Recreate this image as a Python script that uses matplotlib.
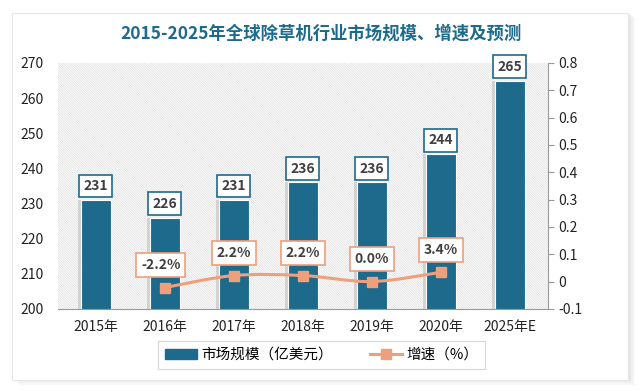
import matplotlib.pyplot as plt
import matplotlib.patches as mpatches
from matplotlib.path import Path
from matplotlib.lines import Line2D
import numpy as np

plt.rcParams['font.family'] = ['Noto Sans CJK SC', 'DejaVu Sans']
plt.rcParams['hatch.linewidth'] = 0.5

# Data.
categories = ['2015年', '2016年', '2017年', '2018年', '2019年', '2020年', '2025年E']
market_size = [231, 226, 231, 236, 236, 244, 265]
growth = [None, -0.022, 0.022, 0.022, 0.0, 0.034, None]
growth_labels = ['', '-2.2%', '2.2%', '2.2%', '0.0%', '3.4%', '']

bar_color = '#1d6a8c'
line_color = '#ee9f7c'
text_color = '#404040'

fig = plt.figure(figsize=(6.43, 3.91), dpi=100)
fig.patch.set_facecolor('white')

# Card with soft shadow.
for i, a in enumerate([0.05, 0.07, 0.09]):
    off = (3 - i) * 0.003
    fig.patches.append(mpatches.Rectangle((0.02 + off, 0.03 - off * 1.6), 0.958, 0.94,
                                          transform=fig.transFigure, facecolor='#888888',
                                          alpha=a, edgecolor='none', zorder=0))
fig.patches.append(mpatches.Rectangle((0.019, 0.028), 0.958, 0.94, transform=fig.transFigure,
                                      facecolor='white', edgecolor='#e6e6e6', lw=0.8, zorder=1))

fig.text(0.5, 0.915, '2015-2025年全球除草机行业市场规模、增速及预测', ha='center', va='center',
         fontsize=12.5, fontweight='bold', color=bar_color)

ax = fig.add_axes([0.090, 0.210, 0.762, 0.629])
ax.set_zorder(2)
ax.patch.set_facecolor('white')
ax.patch.set_hatch('\\' * 14)
ax.patch.set_edgecolor('#dcdcdc')

x = np.arange(len(categories))
width = 0.43
ax.bar(x - 0.04, market_size, width, color='#000000', alpha=0.12, zorder=1)
ax.bar(x, market_size, width, color=bar_color, edgecolor='white', lw=0.8, zorder=2)
ax.set_ylim(200, 270)
ax.set_xlim(-0.55, len(categories) - 0.45)
ax.set_yticks(range(200, 271, 10))
ax.set_xticks(x)
ax.set_xticklabels(categories)
ax.tick_params(axis='y', length=0, labelsize=10, colors='#222222', pad=10)
ax.tick_params(axis='x', length=0, labelsize=10, colors='#222222', pad=8)
for s in ['left', 'top', 'right']:
    ax.spines[s].set_visible(False)
ax.spines['bottom'].set_color('#999999')

for xi, v in zip(x, market_size):
    ax.annotate(str(v), (xi, v), xytext=(0, 10), textcoords='offset points', ha='center',
                va='center', fontsize=10, fontweight='bold', color=text_color, zorder=5,
                bbox=dict(boxstyle='square,pad=0.3', fc='white', ec=bar_color, lw=1.2))

ax2 = ax.twinx()
ax2.set_ylim(-0.1, 0.8)
ax2.set_yticks(np.arange(-0.1, 0.81, 0.1))
ax2.set_yticklabels(['-0.1', '0', '0.1', '0.2', '0.3', '0.4', '0.5', '0.6', '0.7', '0.8'])
ax2.tick_params(axis='y', length=4, labelsize=10, colors='#999999', labelcolor='#222222')
for s in ['left', 'top', 'bottom']:
    ax2.spines[s].set_visible(False)
ax2.spines['right'].set_color('#999999')

# Smoothed growth line (Catmull-Rom as cubic Bezier through the data points).
gx = [xi for xi, g in zip(x, growth) if g is not None]
gy = [g for g in growth if g is not None]
pts = np.column_stack([gx, gy]).astype(float)
verts = [tuple(pts[0])]
codes = [Path.MOVETO]
t = 0.5
for i in range(len(pts) - 1):
    p0 = pts[i - 1] if i > 0 else pts[i]
    p1, p2 = pts[i], pts[i + 1]
    p3 = pts[i + 2] if i + 2 < len(pts) else pts[i + 1]
    c1 = p1 + (p2 - p0) * t / 3
    c2 = p2 - (p3 - p1) * t / 3
    verts += [tuple(c1), tuple(c2), tuple(p2)]
    codes += [Path.CURVE4] * 3
ax2.add_patch(mpatches.PathPatch(Path(verts, codes), fc='none', ec=line_color, lw=2.2, zorder=3))
ax2.plot(gx, gy, ls='none', marker='s', ms=7, color=line_color, zorder=4)

for xi, g, lab in zip(x, growth, growth_labels):
    if g is None:
        continue
    ax2.annotate(lab, (xi, g), xytext=(-3 if g < 0 else 0, 16), textcoords='offset points',
                 ha='center', va='center', fontsize=10, fontweight='bold', color=text_color,
                 zorder=5, bbox=dict(boxstyle='square,pad=0.35', fc='white', ec=line_color, lw=1.2))

handles = [mpatches.Patch(color=bar_color, label='市场规模（亿美元）'),
           Line2D([], [], color=line_color, lw=2.2, marker='s', ms=7, label='增速（%）')]
leg = fig.legend(handles=handles, loc='center', bbox_to_anchor=(0.5, 0.092), ncol=2,
                 frameon=True, fancybox=False, fontsize=10.5, handlelength=2.2,
                 columnspacing=2.5, handletextpad=0.3, borderpad=0.5)
leg.get_frame().set_edgecolor('#cccccc')
leg.get_frame().set_linewidth(0.8)

fig.savefig('out.png', dpi=100)
